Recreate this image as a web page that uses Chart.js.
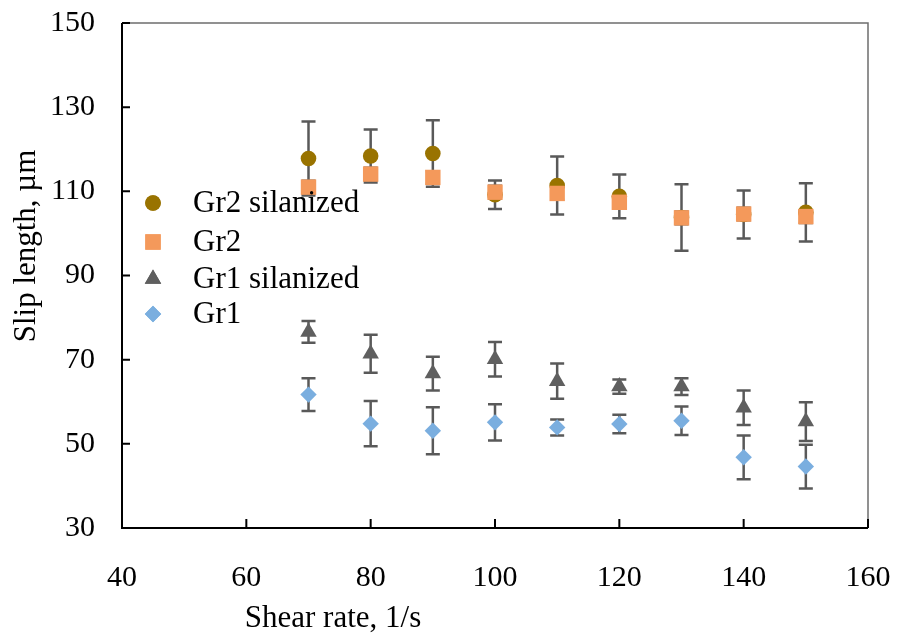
<!DOCTYPE html>
<html>
<head>
<meta charset="utf-8">
<script src="https://cdn.jsdelivr.net/npm/chart.js@4.4.0/dist/chart.umd.min.js"></script>
<style>
  html, body { margin: 0; padding: 0; background: #fff; }
  #wrap { width: 900px; height: 635px; }
</style>
</head>
<body>
<div id="wrap"><canvas id="chartSlip" width="900" height="635"></canvas></div>
<script>
// ===== DATA =====
const shearRate = [70, 80, 90, 100, 110, 120, 130, 140, 150];

const gr2Sil    = [117.8, 118.4, 119.0, 109.2, 111.4, 108.8, 103.8, 104.5, 105.0];
const gr2SilErr = [8.8, 6.3, 7.9, 3.4, 6.9, 5.2, 7.9, 5.7, 6.9];

const gr2       = [111.0, 114.1, 113.3, 109.8, 109.5, 107.4, 103.7, 104.6, 104.0];
const gr2Err    = [1.5, 1.5, 1.5, 1.5, 1.5, 1.5, 1.5, 1.5, 1.5];

const gr1Sil    = [76.6, 71.4, 66.7, 70.1, 64.9, 63.6, 63.6, 58.6, 55.3];
const gr1SilErr = [2.6, 4.5, 4.0, 4.1, 4.2, 1.7, 2.0, 4.1, 4.6];

const gr1       = [61.7, 54.8, 53.1, 55.1, 53.9, 54.7, 55.5, 46.8, 44.6];
const gr1Err    = [3.9, 5.4, 5.6, 4.3, 1.9, 2.2, 3.4, 5.2, 5.2];

const seriesNames = ['Gr2 silanized', 'Gr2', 'Gr1 silanized', 'Gr1'];
const xTicks = [40, 60, 80, 100, 120, 140, 160];
const yTicks = [30, 50, 70, 90, 110, 130, 150];

const FONT = 'Liberation Serif, Times New Roman, serif';

function pts(ys) {
  return shearRate.map((x, i) => ({ x: x, y: ys[i] }));
}

// ===== PLUGINS =====
const errorBars = {
  id: 'errorBars',
  beforeDatasetsDraw(chart) {
    const { ctx, scales: { x, y } } = chart;
    ctx.save();
    ctx.strokeStyle = '#595959';
    ctx.lineWidth = 2.5;
    chart.data.datasets.forEach(ds => {
      ds.data.forEach((p, i) => {
        const e = ds.errors[i];
        const px = x.getPixelForValue(p.x);
        const top = y.getPixelForValue(p.y + e);
        const bot = y.getPixelForValue(p.y - e);
        ctx.beginPath();
        ctx.moveTo(px, top); ctx.lineTo(px, bot);
        ctx.moveTo(px - 7, top); ctx.lineTo(px + 7, top);
        ctx.moveTo(px - 7, bot); ctx.lineTo(px + 7, bot);
        ctx.stroke();
      });
    });
    ctx.restore();
  }
};

const frame = {
  id: 'frame',
  beforeDatasetsDraw(chart) {
    const { ctx, chartArea: a, scales: { x, y } } = chart;
    ctx.save();
    // top + right border, grey
    ctx.strokeStyle = '#6e6e6e';
    ctx.lineWidth = 1.5;
    ctx.beginPath();
    ctx.moveTo(a.left, a.top); ctx.lineTo(a.right, a.top); ctx.lineTo(a.right, a.bottom);
    ctx.stroke();
    // axes, black, with inside ticks
    ctx.strokeStyle = '#000';
    ctx.lineWidth = 2;
    ctx.beginPath();
    ctx.moveTo(a.left, a.top); ctx.lineTo(a.left, a.bottom); ctx.lineTo(a.right, a.bottom);
    xTicks.forEach(v => {
      const px = x.getPixelForValue(v);
      ctx.moveTo(px, a.bottom); ctx.lineTo(px, a.bottom - 9);
    });
    yTicks.forEach(v => {
      const py = y.getPixelForValue(v);
      ctx.moveTo(a.left, py); ctx.lineTo(a.left + 8, py);
    });
    ctx.stroke();
    ctx.restore();
  }
};

const legendTitles = {
  id: 'legendTitles',
  afterDraw(chart) {
    const { ctx } = chart;
    const rows = [203, 242, 279, 314];
    ctx.save();
    chart.data.datasets.forEach((ds, i) => {
      ctx.fillStyle = ds.backgroundColor;
      ctx.beginPath();
      Chart.helpers.drawPoint(ctx, {
        pointStyle: ds.pointStyle, radius: ds.pointRadius, borderWidth: 0, rotation: 0
      }, 153, rows[i]);
      ctx.fill();
      ctx.fillStyle = '#000';
      ctx.font = '31px ' + FONT;
      ctx.textAlign = 'left';
      ctx.textBaseline = 'middle';
      ctx.fillText(ds.label, 193, rows[i] + 1);
    });
    // axis titles
    ctx.font = '31px ' + FONT;
    ctx.textAlign = 'center';
    ctx.textBaseline = 'middle';
    ctx.fillText('Shear rate, 1/s', 333, 619);
    ctx.translate(27, 246);
    ctx.rotate(-Math.PI / 2);
    ctx.fillText('Slip length, \u00b5m', 0, 0);
    ctx.restore();
  }
};

// ===== CHART =====
const chartSlip = new Chart(document.getElementById('chartSlip'), {
  type: 'scatter',
  data: {
    datasets: [
      { label: seriesNames[0], data: pts(gr2Sil), errors: gr2SilErr, order: 4, pointStyle: 'circle', pointRadius: 7.8, backgroundColor: '#997300', borderWidth: 0 },
      { label: seriesNames[1], data: pts(gr2), errors: gr2Err, order: 3, pointStyle: 'rect', pointRadius: 10.9, backgroundColor: '#F4995B', borderWidth: 0 },
      { label: seriesNames[2], data: pts(gr1Sil), errors: gr1SilErr, order: 2, pointStyle: 'triangle', pointRadius: 9.5, backgroundColor: '#5f5f5f', borderWidth: 0 },
      { label: seriesNames[3], data: pts(gr1), errors: gr1Err, order: 1, pointStyle: 'rectRot', pointRadius: 8.2, backgroundColor: '#7AAEDF', borderWidth: 0 },
    ]
  },
  options: {
    responsive: false, animation: false,
    layout: { padding: { top: 23, right: 32, left: 0, bottom: 0 } },
    plugins: { legend: { display: false }, tooltip: { enabled: false } },
    elements: { point: { hoverRadius: 8 } },
    scales: {
      x: {
        type: 'linear', min: 40, max: 160,
        afterFit: s => { s.height = 107; s.paddingLeft = 0; s.paddingRight = 0; },
        afterBuildTicks: s => { s.ticks = xTicks.map(v => ({ value: v })); },
        grid: { display: false, drawTicks: false },
        border: { display: false },
        ticks: { color: '#000', padding: 32, font: { family: FONT, size: 30 } }
      },
      y: {
        type: 'linear', min: 30, max: 150,
        afterFit: s => { s.width = 122; s.paddingTop = 0; s.paddingBottom = 0; },
        afterBuildTicks: s => { s.ticks = yTicks.map(v => ({ value: v })); },
        grid: { display: false, drawTicks: false },
        border: { display: false },
        ticks: { color: '#000', padding: 27, font: { family: FONT, size: 30 } }
      }
    }
  },
  plugins: [frame, errorBars, legendTitles]
});
</script>
</body>
</html>
